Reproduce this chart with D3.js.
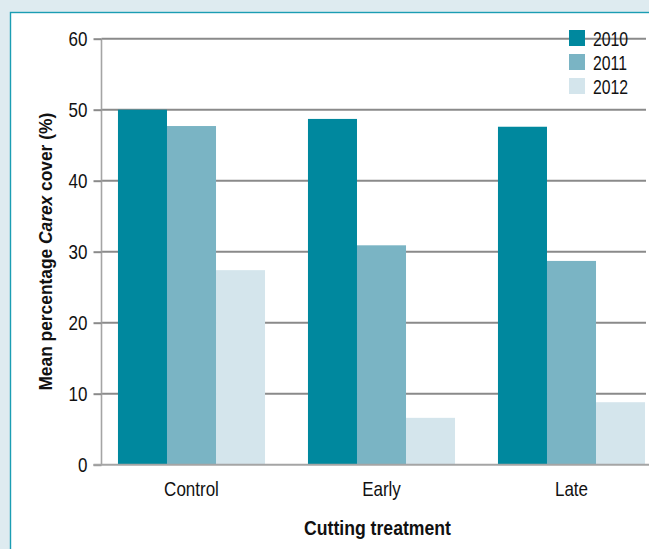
<!DOCTYPE html>
<html>
<head>
<meta charset="utf-8">
<script src="https://cdn.jsdelivr.net/npm/d3@7"></script>
<style>
  html, body { margin: 0; padding: 0; background: #deebf0; overflow: hidden; }
  svg { display: block; }
  text { font-family: "Liberation Sans", Arial, sans-serif; fill: #111; }
</style>
</head>
<body>
<svg id="chart" width="649" height="549"></svg>
<script>
const categories = ["Control", "Early", "Late"];
const years = ["2010", "2011", "2012"];
const values2010 = [50.0, 48.7, 47.6];
const values2011 = [47.7, 30.9, 28.7];
const values2012 = [27.4, 6.6, 8.8];
const yTicks = [0, 10, 20, 30, 40, 50, 60];
const colors = ["#00889e", "#7ab4c4", "#d4e5ec"];

const seriesValues = [values2010, values2011, values2012];
const FONT = "'Liberation Sans', Arial, sans-serif";
const SX = 0.85;

// condense text horizontally around its anchor point
function narrow(sel, sx) {
  sel.each(function () {
    const t = d3.select(this);
    const x = +t.attr("x") || 0, yy = +t.attr("y") || 0;
    t.attr("x", 0).attr("y", 0).attr("transform", `translate(${x},${yy}) scale(${sx},1)`);
  });
}

const svg = d3.select("#chart");

// panel
svg.append("rect").attr("x", 10.5).attr("y", 12.5).attr("width", 700).attr("height", 600)
  .attr("fill", "#fff").attr("stroke", "#1b9db3").attr("stroke-width", 1.4);

const plotLeft = 101.5, plotRight = 646, y0 = 464.7, yTop = 38.7;

const y = d3.scaleLinear().domain([0, 60]).range([y0, yTop]);
const x0 = d3.scaleBand().domain(categories).range([96.5, 666.5]).paddingInner(0.226).paddingOuter(0.113);
const x1 = d3.scaleBand().domain(years).range([0, x0.bandwidth()]);

// gridlines
svg.append("g").selectAll("line").data(yTicks.filter(d => d > 0)).join("line")
  .attr("x1", plotLeft).attr("x2", plotRight)
  .attr("y1", d => y(d)).attr("y2", d => y(d))
  .attr("stroke", "#8a8a8a").attr("stroke-width", 2);

// bars
const groups = svg.append("g").selectAll("g").data(categories).join("g")
  .attr("transform", d => `translate(${x0(d)},0)`);
groups.selectAll("rect").data((c, i) => years.map((yr, j) => ({ yr, v: seriesValues[j][i], j })))
  .join("rect")
  .attr("x", d => x1(d.yr)).attr("width", x1.bandwidth())
  .attr("y", d => y(d.v)).attr("height", d => y0 - y(d.v))
  .attr("fill", d => colors[d.j]);

// y axis
const yAxis = d3.axisLeft(y).tickValues(yTicks).tickSize(8).tickPadding(6).tickFormat(d3.format("d"));
const gy = svg.append("g").attr("transform", `translate(${plotLeft},0)`).call(yAxis);
gy.select(".domain").attr("stroke", "#a5a5a5").attr("stroke-width", 1.6).attr("d", `M0,${y0}V${yTop}`);
gy.selectAll(".tick line").attr("stroke", "#8a8a8a").attr("stroke-width", 2);
gy.selectAll(".tick text").attr("font-size", 20).attr("fill", "#111").style("font-family", FONT)
  .call(narrow, SX);

// x axis
const xAxis = d3.axisBottom(x0).tickSize(0).tickPadding(17);
const gx = svg.append("g").attr("transform", `translate(0,${y0})`).call(xAxis);
gx.select(".domain").attr("stroke", "#a5a5a5").attr("stroke-width", 2).attr("d", `M${plotLeft - 8},0H649`);
gx.selectAll(".tick text").attr("font-size", 20).attr("fill", "#111").style("font-family", FONT)
  .call(narrow, SX);

// axis titles
const xt = svg.append("text").attr("text-anchor", "middle")
  .attr("font-size", 20).attr("font-weight", "bold").text("Cutting treatment");
const xtLen = xt.node().getComputedTextLength();
xt.attr("transform", `translate(377.5,535) scale(${147 / xtLen},1)`);

const yl = svg.append("text").attr("text-anchor", "middle").attr("font-size", 19).attr("font-weight", "bold");
yl.append("tspan").text("Mean percentage ");
yl.append("tspan").attr("font-style", "italic").text("Carex");
yl.append("tspan").text(" cover (%)");
const ylLen = yl.node().getComputedTextLength();
yl.attr("transform", `translate(52,251.7) rotate(-90) scale(${278 / ylLen},1)`);

// legend
const leg = svg.append("g").selectAll("g").data(years).join("g")
  .attr("transform", (d, i) => `translate(569,${30 + i * 24})`);
leg.append("rect").attr("width", 16).attr("height", 16).attr("fill", (d, i) => colors[i]);
leg.append("text").attr("x", 24).attr("y", 15.5).attr("font-size", 20).text(d => d)
  .call(narrow, 0.79);
</script>
</body>
</html>
